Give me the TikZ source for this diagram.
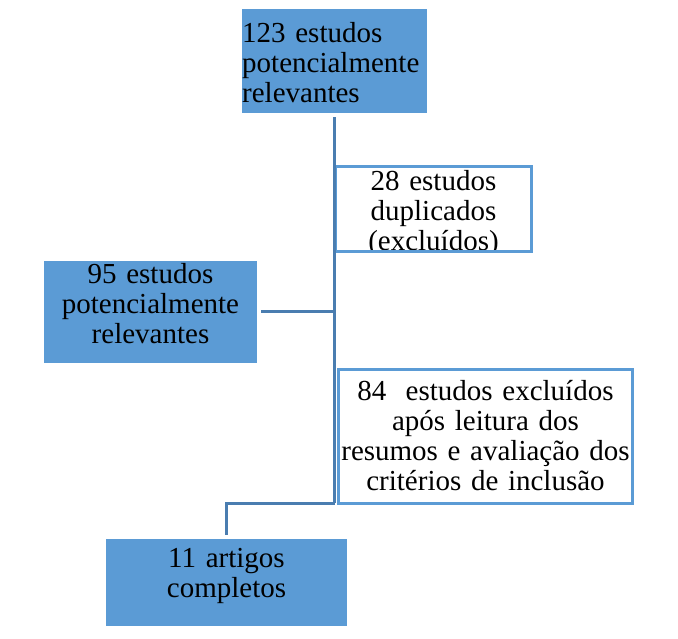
\documentclass[tikz,border=0pt]{standalone}
\usepackage{fontspec}
\setmainfont{Liberation Serif}
\definecolor{boxblue}{HTML}{5B9BD5}
\definecolor{lineblue}{HTML}{4A7DB0}
\begin{document}
\begin{tikzpicture}[x=1pt,y=-1pt,
  filledbox/.style={fill=boxblue, draw=none, inner sep=0pt},
  whitebox/.style={fill=white, draw=none, inner sep=0pt},
  boxborder/.style={draw=boxblue, line width=3pt},
  txt/.style={inner sep=0pt, anchor=north, text height=20pt,
    font=\fontsize{29}{30}\selectfont, align=center},
  conn/.style={draw=lineblue, line width=3pt}]
\useasboundingbox (0,0) rectangle (678,639);
% boxes
\node[filledbox, minimum width=185pt, minimum height=104pt] (b1) at (334.5,61) {};
\node[whitebox, minimum width=196pt, minimum height=85pt] (b2) at (433.5,209) {};
\node[filledbox, minimum width=213pt, minimum height=102pt] (b3) at (150.5,312) {};
\node[whitebox, minimum width=294pt, minimum height=134pt] (b4) at (485.5,436.5) {};
\node[filledbox, minimum width=241pt, minimum height=87pt] (b5) at (226.5,582.5) {};
% texts
\node[txt, anchor=north west, align=left, text width=185pt] (t1) at (242,22)
  {123 estudos\\potencialmente\\relevantes};
\begin{scope}
\clip (b2.south west) rectangle (b2.north east);
\node[txt, text width=196pt] (t2) at (433.5,170) {28 estudos\\duplicados\\(excluídos)};
\end{scope}
\node[txt, text width=213pt] (t3) at (150.5,263) {95 estudos\\potencialmente\\relevantes};
\node[txt, text width=294pt] (t4) at (485.5,380)
  {84~ estudos excluídos\\após leitura dos\\resumos e avaliação dos\\critérios de inclusão};
\node[txt, text width=241pt] (t5) at (226.5,547) {11 artigos\\completos};
% borders of white boxes
\draw[boxborder] (b2.south west) rectangle (b2.north east);
\draw[boxborder] (b4.south west) rectangle (b4.north east);
% connectors
\coordinate (j) at (334.5,503);
\draw[conn, shorten <=4pt] (b1.south) -- (j);
\draw[conn, shorten <=4pt] (b3.east) -- (b3.east -| j);
\draw[conn, shorten >=4pt] (j) -| (b5.north);
\end{tikzpicture}
\end{document}
